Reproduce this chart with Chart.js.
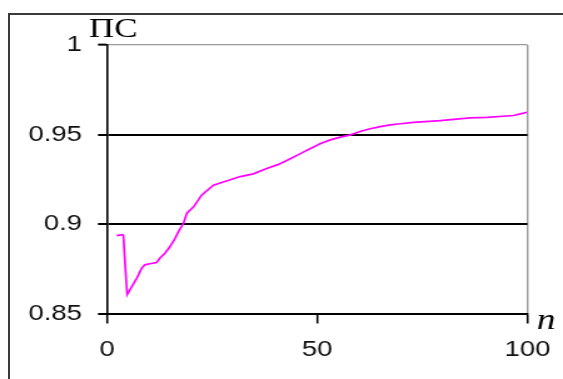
<!DOCTYPE html>
<html>
<head>
<meta charset="utf-8">
<script src="https://cdn.jsdelivr.net/npm/chart.js@4/dist/chart.umd.min.js"></script>
<style>
  html, body { margin: 0; padding: 0; background: #fff; overflow: hidden; }
  body { width: 563px; height: 379px; position: relative; }
  #frame { position: absolute; left: 8px; top: 13px; width: 600px; height: 400px;
           border-left: 2px solid #3a3a3a; border-top: 2px solid #3a3a3a; }
  #wrap { position: absolute; left: 0; top: 0; transform: scaleX(1.2511); transform-origin: 0 0; }
</style>
</head>
<body>
<div id="frame"></div>
<div id="wrap"><canvas id="chart" width="450" height="379"></canvas></div>
<script>
// n values and the ПС series
const nValues = [2.3, 3.7, 3.9, 4.3, 4.8, 5.9, 7.1, 8.3, 9.0, 10.2, 11.8, 12.6, 13.8, 15.0, 16.2, 17.0, 18.2,
  19.0, 20.6, 22.5, 25.3, 27.7, 31.7, 34.8, 38.0, 40.8, 43.6, 46.0, 48.3, 50.7, 53.1, 55.5, 57.9, 60.2,
  62.6, 65.0, 67.4, 69.8, 72.9, 79.3, 82.4, 86.4, 90.4, 96.7, 98.3, 100];
const psValues = [0.8935, 0.894, 0.8935, 0.878, 0.8606, 0.865, 0.8698, 0.8754, 0.8772, 0.8778, 0.8785, 0.881,
  0.8837, 0.8874, 0.892, 0.8957, 0.9004, 0.906, 0.9096, 0.9161, 0.9217, 0.9235, 0.9265, 0.928, 0.931,
  0.9333, 0.9365, 0.9393, 0.942, 0.9448, 0.947, 0.9485, 0.9498, 0.9517, 0.9532, 0.9544, 0.9554, 0.956,
  0.9568, 0.9578, 0.9585, 0.9593, 0.9596, 0.9606, 0.9615, 0.9624];
const xTicks = [0, 50, 100];
const yTicks = [0.85, 0.9, 0.95, 1];
const yTitle = "ПС";
const xTitle = "n";

const points = nValues.map((n, i) => ({ x: n, y: psValues[i] }));
const tickFont = { family: "'Liberation Sans', Arial, sans-serif", size: 22 };

const axisLabels = {
  id: "axisLabels",
  afterDraw(chart) {
    const ctx = chart.ctx;
    ctx.save();
    ctx.fillStyle = "#000";
    ctx.textBaseline = "alphabetic";
    ctx.textAlign = "left";
    ctx.font = "28px 'Liberation Serif', 'Times New Roman', serif";
    ctx.fillText(yTitle, chart.chartArea.left - 14.5, 37);
    ctx.font = "italic 30px 'Liberation Serif', 'Times New Roman', serif";
    ctx.fillText(xTitle, chart.chartArea.right + 7.5, 329);
    ctx.restore();
  }
};

new Chart(document.getElementById("chart"), {
  type: "line",
  data: {
    datasets: [{
      data: points,
      borderColor: "#ff00ff",
      borderWidth: 1.7,
      pointRadius: 0,
      tension: 0,
      fill: false
    }]
  },
  options: {
    responsive: false,
    animation: false,
    layout: { padding: { top: 45, right: 28.4, left: 0, bottom: 0 } },
    plugins: { legend: { display: false }, tooltip: { enabled: false } },
    scales: {
      x: {
        type: "linear",
        min: 0,
        max: 100,
        afterBuildTicks: s => { s.ticks = xTicks.map(v => ({ value: v })); },
        afterFit: s => { s.height = 65.5; s.paddingLeft = 0; s.paddingRight = 0; },
        ticks: { font: tickFont, color: "#111", padding: 13, maxRotation: 0 },
        grid: {
          color: c => (c.tick && c.tick.value === 100 ? "#9a9a9a" : "rgba(0,0,0,0)"),
          lineWidth: 1.4,
          tickColor: "#000",
          tickWidth: 1.6,
          tickLength: 10
        },
        border: { color: "#000", width: 2 }
      },
      y: {
        min: 0.85,
        max: 1,
        afterBuildTicks: s => { s.ticks = yTicks.map(v => ({ value: v })); },
        afterFit: s => { s.width = 85.5; },
        ticks: {
          font: tickFont,
          color: "#111",
          padding: 12.8,
          callback: v => String(+v.toFixed(2))
        },
        grid: {
          color: c => (c.tick && Math.abs(c.tick.value - 1) < 1e-9 ? "#9a9a9a" : "#000"),
          lineWidth: c => (c.tick && Math.abs(c.tick.value - 1) < 1e-9 ? 1.3 : 2),
          tickColor: "#000",
          tickWidth: 2,
          tickLength: 7.2
        },
        border: { color: "#000", width: 1.6 }
      }
    }
  },
  plugins: [axisLabels]
});
</script>
</body>
</html>
